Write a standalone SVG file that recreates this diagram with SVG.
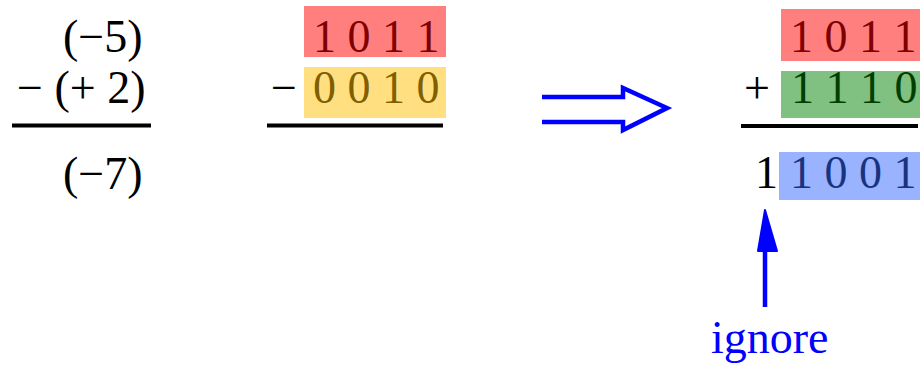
<svg xmlns="http://www.w3.org/2000/svg" width="920" height="366" viewBox="0 0 920 366">
<style>
text{font-family:"Liberation Serif","Times New Roman",serif;font-size:46px;white-space:pre}
.k{fill:#000}
.rule{stroke:#000;stroke-width:4;fill:none}
.blue{stroke:#0000FF;stroke-width:4.5;fill:none;stroke-linejoin:miter}
</style>
<rect width="920" height="366" fill="#fff"/>
<g id="left-expr">
<text class="k" x="63" y="52">(−5)</text>
<text class="k" x="17" y="103">− (+ 2)</text>
<line class="rule" x1="12" y1="125.5" x2="151" y2="125.5"/>
<text class="k" x="63" y="189">(−7)</text>
</g>
<g id="middle-binary">
<rect x="304" y="6" width="142" height="51" fill="#FF7F7F"/>
<text x="313" y="52" fill="#7F0000">1 0 1 1</text>
<text class="k" x="271" y="103">−</text>
<rect x="304" y="67" width="142" height="51" fill="#FFDF80"/>
<text x="313" y="103" fill="#7F5F00">0 0 1 0</text>
<line class="rule" x1="267" y1="125.5" x2="443" y2="125.5"/>
</g>
<g id="connectors">
<polyline class="blue" points="542,97 623,97 623,88 667,108 623,130 623,122 542,122"/>
<line x1="765" y1="307" x2="765" y2="252" stroke="#0000FF" stroke-width="4.5"/>
<polygon points="765,210 758,251 777,251" fill="#0000FF" stroke="#0000FF" stroke-width="2" stroke-linejoin="round"/>
</g>
<g id="right-binary">
<rect x="781" y="9" width="139" height="52" fill="#FF7F7F"/>
<text x="790" y="52" fill="#7F0000">1 0 1 1</text>
<text class="k" x="744" y="103">+</text>
<rect x="781" y="71" width="139" height="47" fill="#80C080"/>
<text x="791" y="103" fill="#003F00">1 1 1 0</text>
<line class="rule" x1="741" y1="126" x2="918" y2="126"/>
<rect x="779" y="152" width="141" height="48" fill="#99B3FF"/>
<text class="k" x="755" y="188">1</text>
<text x="790" y="188" fill="#1A337F">1 0 0 1</text>
</g>
<g id="ignore-label">
<text x="711" y="353" fill="#0000FF">ignore</text>
</g>
</svg>
